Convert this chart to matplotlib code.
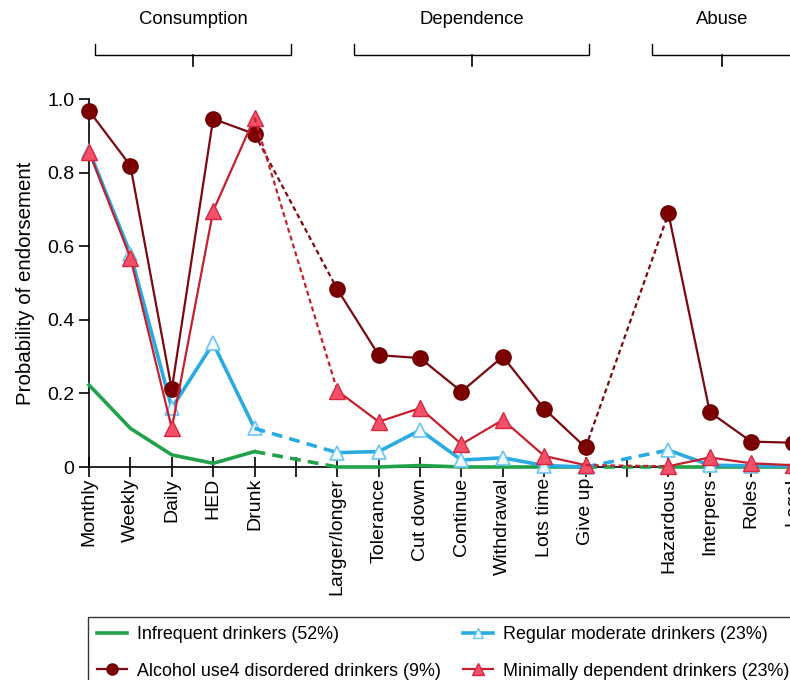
import matplotlib
matplotlib.use("Agg")
import matplotlib.pyplot as plt
from matplotlib.lines import Line2D
from matplotlib.ticker import FuncFormatter

plt.rcParams['font.family'] = ['Liberation Sans', 'DejaVu Sans']

# criteria, in three groups
consumption = ["Monthly", "Weekly", "Daily", "HED", "Drunk"]
dependence = ["Larger/longer", "Tolerance", "Cut down", "Continue",
              "Withdrawal", "Lots time", "Give up"]
abuse = ["Hazardous", "Interpers", "Roles", "Legal"]
group_names = ["Consumption", "Dependence", "Abuse"]

# probabilities of endorsement per class (consumption + dependence + abuse)
infrequent = [0.223, 0.105, 0.033, 0.010, 0.042,
              0.0, 0.0, 0.004, 0.0, 0.0, 0.0, 0.0,
              0.0, 0.0, 0.0, 0.0]
regular = [0.86, 0.58, 0.16, 0.336, 0.105,
           0.039, 0.042, 0.10, 0.019, 0.025, 0.004, 0.0,
           0.046, 0.005, 0.003, 0.003]
disordered = [0.968, 0.819, 0.211, 0.946, 0.905,
              0.483, 0.304, 0.296, 0.205, 0.30, 0.158, 0.053,
              0.689, 0.149, 0.069, 0.066]
minimal = [0.857, 0.569, 0.105, 0.696, 0.949,
           0.207, 0.123, 0.16, 0.062, 0.128, 0.03, 0.005,
           0.002, 0.026, 0.01, 0.005]

groups = [consumption, dependence, abuse]
pos_groups = []
p = 0
for g in groups:
    pos_groups.append(list(range(p, p + len(g))))
    p += len(g) + 1
positions = [x for g in pos_groups for x in g]
labels = consumption + dependence + abuse

fig = plt.figure(figsize=(7.9, 6.8), dpi=100)
ax = fig.add_axes([89 / 790, 213 / 680, 716 / 790, 368 / 680])


def draw(vals, color, lw, dash, zorder, **mk):
    # split into groups, solid inside a group, dashed between groups
    i = 0
    prev = None
    for gp in pos_groups:
        gv = vals[i:i + len(gp)]
        i += len(gp)
        if prev is not None:
            ax.plot([prev[0], gp[0]], [prev[1], gv[0]], color=color, lw=lw,
                    dashes=dash, zorder=zorder, clip_on=False)
        ax.plot(gp, gv, color=color, lw=lw, zorder=zorder, clip_on=False, **mk)
        prev = (gp[-1], gv[-1])


draw(infrequent, '#21a24a', 2.6, (3, 2), 3)
draw(regular, '#29abe2', 2.6, (3, 2), 4, marker='^', ms=10, mfc='#eef8fd',
     mec='#6cc5ec', mew=1.2)
draw(disordered, '#7a0a10', 1.6, (2.2, 1.5), 5, marker='o', ms=11,
     mfc='#7d0000', mec='#6a0000')
draw(minimal, '#c4202e', 1.6, (2.2, 1.5), 6, marker='^', ms=12,
     mfc='#f4506c', mec='#d8283e', mew=1)

ax.set_xlim(0, 17.3)
ax.set_ylim(0, 1.0)
ax.set_xticks(range(0, 18))
tick_labels = [''] * 18
for x, l in zip(positions, labels):
    tick_labels[x] = l
ax.set_xticklabels(tick_labels, rotation=90, fontsize=14, va='top')
ax.set_yticks([0, 0.2, 0.4, 0.6, 0.8, 1.0])
ax.yaxis.set_major_formatter(FuncFormatter(lambda v, _: '0' if v == 0 else '%.1f' % v))
ax.tick_params(axis='x', direction='inout', length=14, width=1.2, pad=1)
ax.tick_params(axis='y', direction='out', length=7, width=1.2, labelsize=14)
ax.spines['top'].set_visible(False)
ax.spines['right'].set_visible(False)
ax.spines['left'].set_linewidth(1.2)
ax.spines['bottom'].set_linewidth(1.2)
ax.set_ylabel("Probability of endorsement", fontsize=14.8, labelpad=9)

# group brackets above the plot
tr = ax.get_xaxis_transform()
brackets = [(0.15, 4.88), (6.41, 12.09), (13.6, 17.0)]
for (x0, x1), name in zip(brackets, group_names):
    mid = (x0 + x1) / 2
    ax.plot([x0, x0, x1, x1], [1.15, 1.12, 1.12, 1.15], color='black', lw=1,
            transform=tr, clip_on=False)
    ax.plot([mid, mid], [1.12, 1.09], color='black', lw=1.2, transform=tr,
            clip_on=False)
    ax.text(mid, 1.217, name, transform=tr, ha='center', va='center', fontsize=13.3)

handles = [
    Line2D([], [], color='#21a24a', lw=2.6),
    Line2D([], [], color='#7a0a10', lw=1.6, marker='o', ms=8, mfc='#7d0000', mec='#6a0000'),
    Line2D([], [], color='#29abe2', lw=2.6, marker='^', ms=7, mfc='#eef8fd', mec='#6cc5ec'),
    Line2D([], [], color='#c4202e', lw=1.6, marker='^', ms=8, mfc='#f4506c', mec='#d8283e'),
]
names = ["Infrequent drinkers (52%)", "Alcohol use4 disordered drinkers (9%)",
         "Regular moderate drinkers (23%)", "Minimally dependent drinkers (23%)"]
leg = fig.legend(handles, names, ncol=2, loc='upper left',
                 bbox_to_anchor=(88 / 790, 1 - 617 / 680),
                 fontsize=12.9, frameon=True, fancybox=False, edgecolor='black',
                 handlelength=1.7, handletextpad=0.56, borderaxespad=0,
                 labelspacing=1.1, columnspacing=1.2, borderpad=0.5)
leg.get_frame().set_linewidth(1)

fig.savefig("out.png", dpi=100)
